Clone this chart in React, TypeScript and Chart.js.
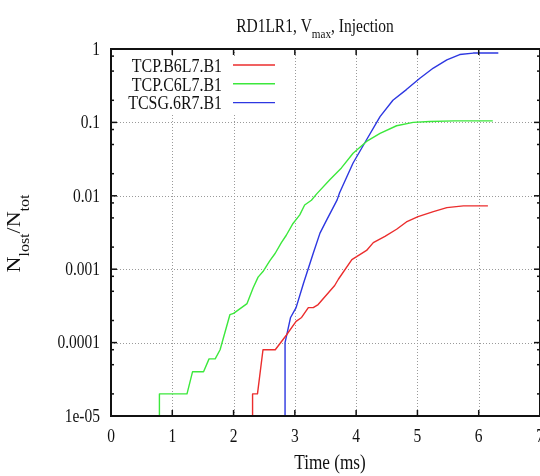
import { useEffect, useRef } from "react";
import { Chart, registerables } from "chart.js";

Chart.register(...registerables);

const FONT = '"Liberation Serif", "DejaVu Serif", serif';
const SQ = 0.86; // horizontal squeeze of the text glyphs

const seriesNames = ["TCP.B6L7.B1", "TCP.C6L7.B1", "TCSG.6R7.B1"];
const seriesColors = ["rgb(235,45,45)", "rgb(60,232,60)", "rgb(45,55,225)"];

// values of 1e-6 are "no loss yet" (below the axis)
const redTimes = [2.31, 2.31, 2.39, 2.48, 2.68, 2.86, 3.02, 3.11, 3.22, 3.30, 3.38, 3.65, 3.71, 3.93, 4.17, 4.28, 4.47, 4.66, 4.82, 5.01, 5.26, 5.48, 5.75, 6.15];
const redValues = [1e-6, 2e-5, 2e-5, 8e-5, 8e-5, 1.26e-4, 1.95e-4, 2.2e-4, 3e-4, 3e-4, 3.3e-4, 6e-4, 7.3e-4, 1.35e-3, 1.8e-3, 2.3e-3, 2.8e-3, 3.5e-3, 4.4e-3, 5.2e-3, 6.1e-3, 6.9e-3, 7.3e-3, 7.3e-3];

const greenTimes = [0.79, 0.79, 1.24, 1.33, 1.51, 1.60, 1.70, 1.78, 1.94, 2.00, 2.22, 2.32, 2.40, 2.48, 2.59, 2.68, 2.78, 2.86, 2.97, 3.08, 3.16, 3.27, 3.36, 3.57, 3.76, 3.95, 4.17, 4.39, 4.66, 4.93, 5.20, 5.60, 6.23];
const greenValues = [1e-6, 2e-5, 2e-5, 4e-5, 4e-5, 6e-5, 6e-5, 8e-5, 2.4e-4, 2.5e-4, 3.4e-4, 5.6e-4, 7.8e-4, 9.3e-4, 1.3e-3, 1.65e-3, 2.3e-3, 2.9e-3, 4.2e-3, 5.5e-3, 7.5e-3, 8.7e-3, 0.0107, 0.0165, 0.024, 0.038, 0.055, 0.071, 0.090, 0.100, 0.103, 0.105, 0.105];

const blueTimes = [2.84, 2.84, 2.89, 2.93, 3.02, 3.14, 3.30, 3.41, 3.52, 3.69, 3.73, 3.95, 4.17, 4.39, 4.60, 4.82, 5.04, 5.26, 5.48, 5.69, 5.91, 6.32];
const blueValues = [1e-6, 1e-4, 1.55e-4, 2.2e-4, 3e-4, 6.4e-4, 1.65e-3, 3.1e-3, 4.7e-3, 8.8e-3, 0.011, 0.028, 0.058, 0.12, 0.20, 0.28, 0.40, 0.55, 0.71, 0.84, 0.88, 0.88];

const xTickValues = [0, 1, 2, 3, 4, 5, 6, 7];
const xTickLabels = ["0", "1", "2", "3", "4", "5", "6", "7"];
const yTickValues = [1e-5, 1e-4, 1e-3, 1e-2, 1e-1, 1];
const yTickLabels = ["1e-05", "0.0001", "0.001", "0.01", "0.1", "1"];
const minorMantissas = [2, 5, 8];

type Part = { t: string; sub?: boolean };
const titleParts: Part[] = [{ t: "RD1LR1, V" }, { t: "max", sub: true }, { t: ", Injection" }];
const yTitleParts: Part[] = [{ t: "N" }, { t: "lost", sub: true }, { t: "/N" }, { t: "tot", sub: true }];
const xTitle = "Time (ms)";

function toPoints(xs: number[], ys: number[]) {
  return xs.map((x, i) => ({ x, y: ys[i] }));
}

function drawRich(ctx: CanvasRenderingContext2D, parts: Part[], size: number, subSize: number, subShift: number) {
  let total = 0;
  const widths = parts.map((p) => {
    ctx.font = `${p.sub ? subSize : size}px ${FONT}`;
    const w = ctx.measureText(p.t).width;
    total += w;
    return w;
  });
  let x = -total / 2;
  ctx.textAlign = "left";
  ctx.textBaseline = "alphabetic";
  parts.forEach((p, i) => {
    ctx.font = `${p.sub ? subSize : size}px ${FONT}`;
    ctx.fillText(p.t, x, p.sub ? subShift : 0);
    x += widths[i];
  });
}

function drawSq(ctx: CanvasRenderingContext2D, text: string, x: number, y: number, size: number, align: CanvasTextAlign) {
  ctx.save();
  ctx.translate(x, y);
  ctx.scale(SQ, 1);
  ctx.font = `${size}px ${FONT}`;
  ctx.textAlign = align;
  ctx.textBaseline = "alphabetic";
  ctx.fillText(text, 0, 0);
  ctx.restore();
}

const gnuplotPlugin = {
  id: "gnuplotLook",
  beforeDatasetsDraw(chart: any) {
    const { ctx, chartArea: a } = chart;
    const xs = chart.scales.x;
    const ys = chart.scales.y;
    ctx.save();
    ctx.strokeStyle = "#9a9a9a";
    ctx.lineWidth = 1;
    ctx.setLineDash([1, 2]);
    xs.ticks.forEach((t: any) => {
      if (t.value <= xs.min || t.value >= xs.max) return;
      const px = Math.round(xs.getPixelForValue(t.value)) + 0.5;
      ctx.beginPath();
      ctx.moveTo(px, a.top);
      ctx.lineTo(px, a.bottom);
      ctx.stroke();
    });
    ys.ticks.forEach((t: any) => {
      if (t.value <= ys.min || t.value >= ys.max) return;
      const py = Math.round(ys.getPixelForValue(t.value)) + 0.5;
      ctx.beginPath();
      ctx.moveTo(a.left, py);
      ctx.lineTo(a.right, py);
      ctx.stroke();
    });
    ctx.restore();
  },
  afterDatasetsDraw(chart: any) {
    const { ctx, chartArea: a } = chart;
    const xs = chart.scales.x;
    const ys = chart.scales.y;
    ctx.save();
    ctx.setLineDash([]);
    ctx.strokeStyle = "#111";
    ctx.lineWidth = 1.5;
    const seg = (x1: number, y1: number, x2: number, y2: number) => {
      ctx.beginPath();
      ctx.moveTo(x1, y1);
      ctx.lineTo(x2, y2);
      ctx.stroke();
    };
    xs.ticks.forEach((t: any) => {
      const px = xs.getPixelForValue(t.value);
      seg(px, a.bottom, px, a.bottom - 6);
      seg(px, a.top, px, a.top + 6);
    });
    ys.ticks.forEach((t: any) => {
      const py = ys.getPixelForValue(t.value);
      seg(a.left, py, a.left + 6, py);
      seg(a.right, py, a.right - 6, py);
    });
    for (let e = -6; e <= 0; e++) {
      minorMantissas.forEach((m) => {
        const v = m * Math.pow(10, e);
        if (v <= ys.min || v >= ys.max) return;
        const py = ys.getPixelForValue(v);
        seg(a.left, py, a.left + 3, py);
        seg(a.right, py, a.right - 3, py);
      });
    }
    // border
    ctx.lineWidth = 2;
    ctx.strokeRect(a.left, a.top, a.right - a.left, a.bottom - a.top);

    // key (opaque)
    ctx.fillStyle = "#fff";
    ctx.fillRect(120, 56, 164, 57);
    ctx.fillStyle = "#111";
    chart.data.datasets.forEach((ds: any, i: number) => {
      const cy = 65 + i * 18.8;
      drawSq(ctx, ds.label, 222, cy + 6.7, 18.5, "right");
      ctx.strokeStyle = ds.borderColor;
      ctx.lineWidth = 1.4;
      seg(233, cy, 275, cy);
    });

    // tick labels
    ctx.fillStyle = "#111";
    xs.ticks.forEach((t: any, i: number) => {
      drawSq(ctx, xTickLabels[i] ?? String(t.value), xs.getPixelForValue(t.value), 442, 18, "center");
    });
    ys.ticks.forEach((t: any, i: number) => {
      drawSq(ctx, yTickLabels[i] ?? String(t.value), 100, ys.getPixelForValue(t.value) + 5.8, 18, "right");
    });

    // x title
    drawSq(ctx, xTitle, 330, 469, 20, "center");

    // main title
    ctx.save();
    ctx.translate(315, 32);
    ctx.scale(SQ, 1);
    drawRich(ctx, titleParts, 18, 13, 5.5);
    ctx.restore();

    // y title
    ctx.save();
    ctx.translate(20, 233.5);
    ctx.rotate(-Math.PI / 2);
    ctx.scale(1, SQ);
    drawRich(ctx, yTitleParts, 22, 16, 5.5 + 5);
    ctx.restore();
    ctx.restore();
  },
};

export default function App() {
  const ref = useRef<HTMLCanvasElement | null>(null);
  useEffect(() => {
    if (!ref.current) return;
    const datasets = [
      toPoints(redTimes, redValues),
      toPoints(greenTimes, greenValues),
      toPoints(blueTimes, blueValues),
    ].map((data, i) => ({
      label: seriesNames[i],
      data,
      borderColor: seriesColors[i],
      backgroundColor: seriesColors[i],
      borderWidth: 1.4,
      pointRadius: 0,
      tension: 0,
      fill: false,
      borderJoinStyle: "round" as const,
    }));
    const chart = new Chart(ref.current, {
      type: "line",
      data: { datasets },
      options: {
        responsive: false,
        animation: false,
        devicePixelRatio: 1,
        layout: { padding: { top: 49, right: 0, bottom: 0, left: 0 } },
        plugins: { legend: { display: false }, title: { display: false }, tooltip: { enabled: false } },
        events: [],
        scales: {
          x: {
            type: "linear",
            min: 0,
            max: 7,
            afterBuildTicks: (s: any) => {
              s.ticks = xTickValues.map((v) => ({ value: v }));
            },
            ticks: { display: false },
            grid: { display: false },
            border: { display: false },
            afterFit: (s: any) => {
              s.height = 60;
              s.paddingLeft = 0;
              s.paddingRight = 0;
            },
          },
          y: {
            type: "logarithmic",
            min: 1e-5,
            max: 1,
            afterBuildTicks: (s: any) => {
              s.ticks = yTickValues.map((v) => ({ value: v }));
            },
            ticks: { display: false },
            grid: { display: false },
            border: { display: false },
            afterFit: (s: any) => {
              s.width = 111;
              s.paddingTop = 0;
              s.paddingBottom = 0;
            },
          },
        },
      } as any,
      plugins: [gnuplotPlugin],
    });
    return () => chart.destroy();
  }, []);
  return (
    <div style={{ position: "absolute", left: 0, top: 0, width: 540, height: 476, background: "#fff" }}>
      <canvas ref={ref} width={540} height={476} style={{ display: "block" }} />
    </div>
  );
}
